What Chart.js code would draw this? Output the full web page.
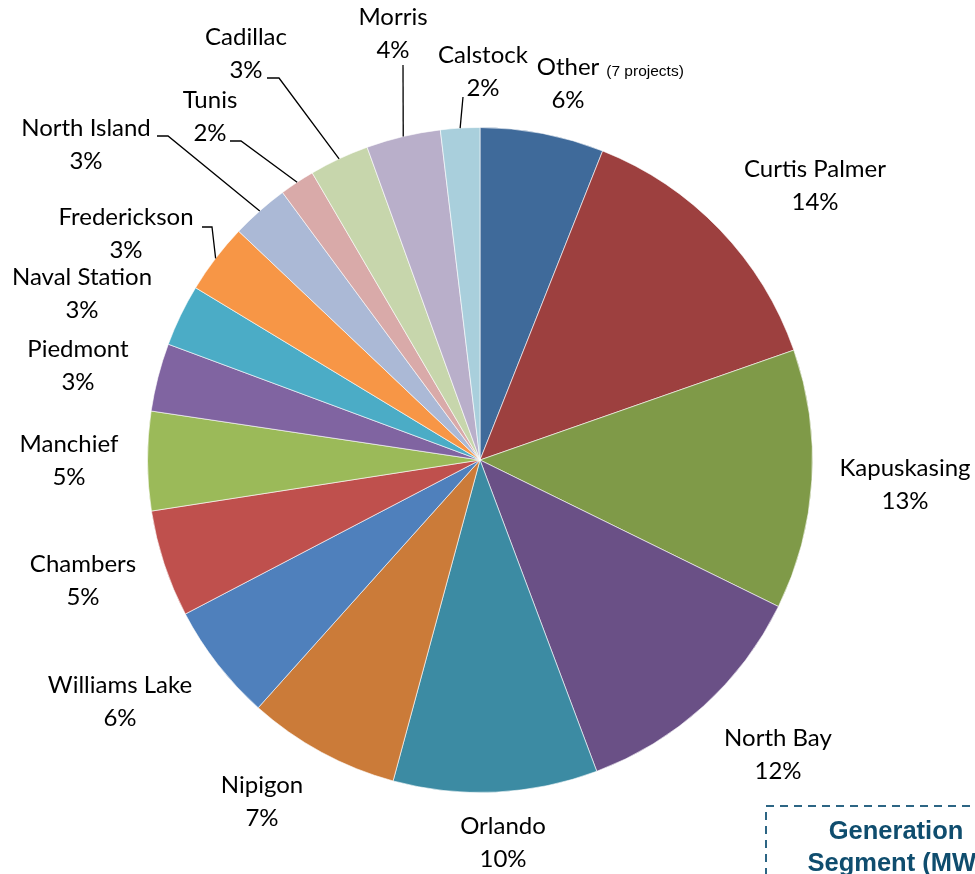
<!DOCTYPE html>
<html>
<head>
<meta charset="utf-8">
<script src="https://cdn.jsdelivr.net/npm/chart.js@4.4.1/dist/chart.umd.min.js"></script>
<style>
  html, body { margin: 0; padding: 0; background: #fff; }
  #wrap { width: 975px; height: 874px; }
</style>
</head>
<body>
<div id="wrap"><canvas id="pieChart" width="975" height="874"></canvas></div>
<script>
// projects, clockwise from 12 o'clock
const projects = [
  "Other", "Curtis Palmer", "Kapuskasing", "North Bay", "Orlando", "Nipigon",
  "Williams Lake", "Chambers", "Manchief", "Piedmont", "Naval Station",
  "Frederickson", "North Island", "Tunis", "Cadillac", "Morris", "Calstock",
];
// share of the generation segment (%)
const shares = [6.0, 13.6, 12.6, 12.0, 9.9, 7.4, 5.7, 5.2, 4.8, 3.3, 3.0, 3.4, 2.8, 1.7, 2.9, 3.6, 1.9];
const otherNote = "(7 projects)";
const boxTitle = ["Generation", "Segment (MW)"];

const sliceColors = [
  "#3f6a9a", "#9d403f", "#7f9a48", "#6a5086", "#3c8ba3", "#cb7b39",
  "#4f80bc", "#bf504d", "#9bba59", "#8064a1", "#4bacc6", "#f79646",
  "#abb9d6", "#d9aaa9", "#c7d6ac", "#b9afca", "#a9cfdc",
];

// label block centre, offset from the pie centre (px)
const labelOffsets = [
  [88, -376], [335, -274], [425, 25], [298, 295], [23, 383], [-218, 342],
  [-360, 242], [-397, 121], [-411, 1], [-402, -94], [-398, -166],
  [-354, -226], [-394, -315], [-270, -343], [-234, -406], [-87, -426], [3, -388],
];
// leader lines: start offset from label centre + short horizontal stub
const leaders = {
  11: { from: [76, -7], stub: 10 },
  12: { from: [71, -9], stub: 11 },
  13: { from: [20, 24], stub: 11 },
  14: { from: [21, 24], stub: 12 },
  15: { from: [10, 31], stub: 0 },
  16: { from: [-20, 25], stub: 0 },
};

const labelFont = "24px Lato";
const lineGap = 33;

const sliceLabels = {
  id: "sliceLabels",
  afterDatasetsDraw(chart) {
    const ctx = chart.ctx;
    const total = shares.reduce((a, b) => a + b, 0);
    const arcs = chart.getDatasetMeta(0).data;
    ctx.save();
    arcs.forEach((arc, i) => {
      const p = arc.getProps(["x", "y", "startAngle", "endAngle", "outerRadius"], true);
      const lx = p.x + labelOffsets[i][0];
      const ly = p.y + labelOffsets[i][1];
      const pct = Math.round((shares[i] / total) * 100) + "%";

      ctx.fillStyle = "#000";
      ctx.font = labelFont;
      ctx.textAlign = "center";
      ctx.textBaseline = "middle";
      ctx.fillText(projects[i], lx, ly - lineGap / 2);
      ctx.fillText(pct, lx, ly + lineGap / 2);

      if (i === 0) {
        const w = ctx.measureText(projects[i]).width;
        ctx.font = "15.5px 'Liberation Sans'";
        ctx.textAlign = "left";
        ctx.textBaseline = "alphabetic";
        ctx.fillText(otherNote, lx + w / 2 + 7, ly - lineGap / 2 + 8);
      }

      const ld = leaders[i];
      if (ld) {
        const mid = (p.startAngle + p.endAngle) / 2;
        const sx = lx + ld.from[0];
        const sy = ly + ld.from[1];
        ctx.strokeStyle = "#000";
        ctx.lineWidth = 1.3;
        ctx.beginPath();
        ctx.moveTo(sx, sy);
        ctx.lineTo(sx + ld.stub, sy);
        ctx.lineTo(p.x + Math.cos(mid) * p.outerRadius, p.y + Math.sin(mid) * p.outerRadius);
        ctx.stroke();
      }
    });

    // dashed note box, cut by the right edge
    ctx.setLineDash([8, 6]);
    ctx.strokeStyle = "#2c6584";
    ctx.lineWidth = 2;
    ctx.strokeRect(766, 806, 300, 120);
    ctx.setLineDash([]);
    ctx.fillStyle = "#0f4d6e";
    ctx.font = "bold 25.5px 'Liberation Sans'";
    ctx.textAlign = "center";
    ctx.textBaseline = "middle";
    ctx.fillText(boxTitle[0], 896, 832);
    ctx.fillText(boxTitle[1], 896, 864);
    ctx.restore();
  },
};

const ctx = document.getElementById("pieChart").getContext("2d");
new Chart(ctx, {
  type: "pie",
  data: {
    labels: projects,
    datasets: [
      {
        data: shares,
        backgroundColor: sliceColors,
        borderColor: "rgba(255,255,255,0.6)",
        borderWidth: 1,
      },
    ],
  },
  options: {
    responsive: false,
    animation: false,
    layout: { padding: { left: 147, right: 162, top: 127, bottom: 81 } },
    plugins: {
      legend: { display: false },
      tooltip: { enabled: false },
    },
  },
  plugins: [sliceLabels],
});
</script>
</body>
</html>
